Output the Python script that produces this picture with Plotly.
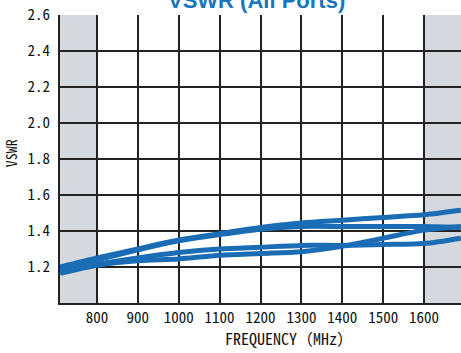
import plotly.graph_objects as go

freq = [710, 800, 900, 1000, 1100, 1200, 1300, 1400, 1500, 1600, 1690]
port_a = [1.20, 1.25, 1.30, 1.35, 1.385, 1.42, 1.445, 1.46, 1.475, 1.49, 1.515]
port_b = [1.19, 1.24, 1.295, 1.345, 1.38, 1.41, 1.425, 1.425, 1.425, 1.425, 1.42]
port_c = [1.165, 1.21, 1.235, 1.245, 1.265, 1.275, 1.285, 1.315, 1.36, 1.405, 1.425]
port_d = [1.175, 1.215, 1.25, 1.28, 1.30, 1.31, 1.32, 1.32, 1.325, 1.33, 1.36]

x_ticks = [800, 900, 1000, 1100, 1200, 1300, 1400, 1500, 1600]
y_ticks = [1.2, 1.4, 1.6, 1.8, 2.0, 2.2, 2.4, 2.6]
y_labels = ["1.2", "1.4", "1.6", "1.8", "2.0", "2.2", "2.4", "2.6"]

x_range = [709.5, 1690.5]
y_range = [1.0, 2.6]
band_low = [709.5, 800]
band_high = [1600, 1690.5]

FONT = "Noto Sans Mono CJK JP, Noto Sans CJK JP, DejaVu Sans Mono"
BLUE = "#1a6db5"

fig = go.Figure()
for series in (port_a, port_b, port_c, port_d):
    fig.add_trace(go.Scatter(x=freq, y=series, mode="lines",
                             line=dict(color=BLUE, width=5, shape="spline", smoothing=0.8),
                             showlegend=False, hoverinfo="skip"))

for x0, x1 in (band_low, band_high):
    fig.add_shape(type="rect", xref="x", yref="y", x0=x0, x1=x1, y0=y_range[0], y1=y_range[1],
                  fillcolor="#d5d8dd", line=dict(width=0), layer="below")

fig.update_layout(
    width=461, height=353,
    margin=dict(l=60, r=0, t=15, b=50),
    paper_bgcolor="white", plot_bgcolor="white",
    font=dict(family=FONT, color="#111", size=14),
    xaxis=dict(range=x_range, tickvals=x_ticks, showgrid=True, gridcolor="#222", gridwidth=1.5,
               showline=True, linecolor="#222", linewidth=2, zeroline=False, ticks="",
               tickfont=dict(size=15, family=FONT), ticklabelstandoff=0, fixedrange=True,
               automargin=False),
    yaxis=dict(range=y_range, tickvals=y_ticks, ticktext=y_labels, showgrid=True, gridcolor="#222",
               gridwidth=1.5, showline=True, linecolor="#222", linewidth=2, zeroline=False, ticks="",
               tickfont=dict(size=15, family=FONT), ticklabelstandoff=5, fixedrange=True,
               automargin=False),
    annotations=[
        dict(text="<b>VSWR (All Ports)</b>", xref="paper", yref="paper", x=0.491, y=1,
             xanchor="center", yanchor="middle", yshift=15, showarrow=False,
             font=dict(family="Liberation Sans", size=22, color="#1a75c0")),
        dict(text="VSWR", xref="paper", yref="paper", x=0, xshift=-49, xanchor="center",
             y=0.52, textangle=-90, showarrow=False, font=dict(family=FONT, size=14)),
        dict(text="FREQUENCY（MHz）", xref="paper", yref="paper", x=0.571, xanchor="center",
             y=0, yshift=-35, yanchor="middle", showarrow=False, font=dict(family=FONT, size=16)),
    ],
)

fig.write_html("out.html", config={"displayModeBar": False},
               post_script="document.body.style.margin='0';document.body.style.overflow='hidden';")
